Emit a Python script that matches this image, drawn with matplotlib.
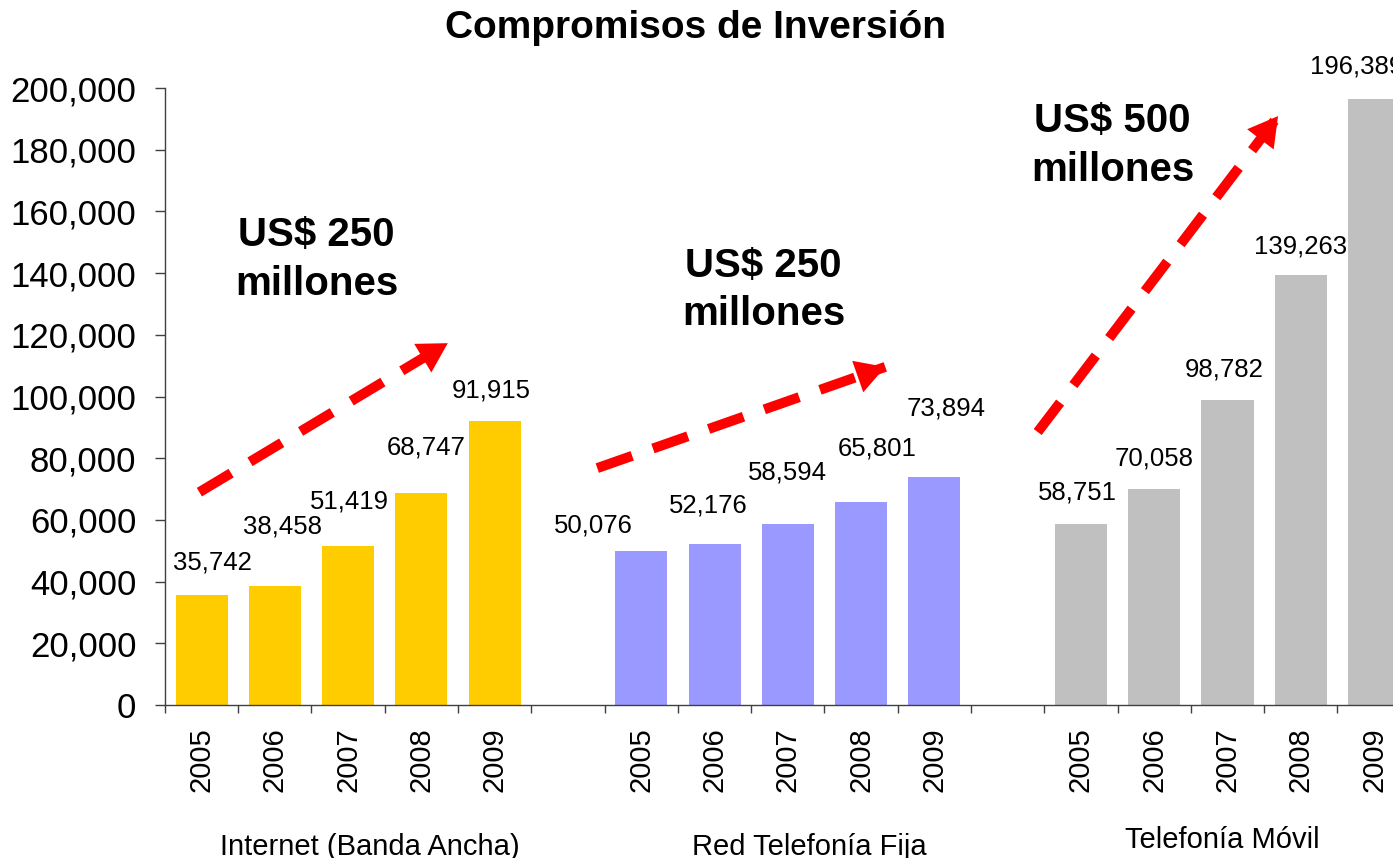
import matplotlib
matplotlib.use('Agg')
import matplotlib.pyplot as plt
from matplotlib.ticker import FixedLocator, StrMethodFormatter

plt.rcParams['font.family'] = ['Liberation Sans', 'DejaVu Sans']

# data
years = ['2005', '2006', '2007', '2008', '2009']
groups = ['Internet (Banda Ancha)', 'Red Telefonía Fija', 'Telefonía Móvil']
internet = [35742, 38458, 51419, 68747, 91915]
fija = [50076, 52176, 58594, 65801, 73894]
movil = [58751, 70058, 98782, 139263, 196389]
montos = ['US$ 250\nmillones', 'US$ 250\nmillones', 'US$ 500\nmillones']

series = [internet, fija, movil]
colors = ['#FFCC00', '#9999FF', '#C0C0C0']

# label nudges in pixels (dx, dy above bar top)
nudges = [[(11, 32), (8, 60), (1, 45), (5, 45), (-3, 31)],
          [(-48, 25), (-6, 39), (0, 52), (16, 54), (12, 69)],
          [(-4, 31), (0, 30), (-3, 31), (0, 29), (-17, 33)]]
# arrows: (start, tip) in data coords
arrows = [((-0.03, 69000), (3.36, 117300)),
          ((5.40, 76800), (9.33, 109600)),
          ((11.41, 88500), (14.69, 190900))]
monto_pos = [(1.57, 144300), (7.67, 134500), (12.43, 181500)]
group_x = [2.29, 8.29, 13.93]
group_y = [-0.243, -0.243, -0.232]

fig = plt.figure(figsize=(13.93, 8.58), dpi=100)
ax = fig.add_axes([0.1184, 0.1783, 0.8943, 0.7191])

px = 0.72  # points per pixel at dpi 100
centers = []
for g, vals in enumerate(series):
    xs = [g * 6 + i for i in range(len(vals))]
    centers += xs
    ax.bar(xs, vals, width=0.71, color=colors[g], zorder=2)
    for i, (x, v) in enumerate(zip(xs, vals)):
        dx, dy = nudges[g][i]
        ax.annotate(f'{v:,}', (x, v), xytext=(dx * px, dy * px),
                    textcoords='offset points', ha='center', va='center',
                    fontsize=18.5, annotation_clip=False)
    ax.text(group_x[g], group_y[g], groups[g], transform=ax.get_xaxis_transform(),
            ha='center', va='baseline', fontsize=21)

ax.set_xlim(-0.5, 16.5)
ax.set_ylim(0, 200000)
ax.yaxis.set_major_locator(FixedLocator(range(0, 200001, 20000)))
ax.yaxis.set_major_formatter(StrMethodFormatter('{x:,.0f}'))

ax.xaxis.set_major_locator(FixedLocator([i - 0.5 for i in range(18)]))
ax.xaxis.set_major_formatter(plt.NullFormatter())
ax.xaxis.set_minor_locator(FixedLocator(centers))
ax.set_xticklabels(years * 3, minor=True, rotation=90, fontsize=21)
ax.tick_params(axis='x', which='major', length=6, width=1, color='#404040')
ax.tick_params(axis='x', which='minor', length=0, pad=15.8)
ax.tick_params(axis='y', length=7, width=1, color='#404040', pad=13.5, labelsize=25)

for s in ['top', 'right']:
    ax.spines[s].set_visible(False)
for s in ['left', 'bottom']:
    ax.spines[s].set_color('#404040')
    ax.spines[s].set_linewidth(1)

for (x0, y0), (x1, y1) in arrows:
    ax.plot([x0, x1], [y0, y1], color='red', lw=7.2, dashes=(3.7, 2.2),
            solid_capstyle='butt', zorder=3, clip_on=False)
    ax.annotate('', xy=(x1, y1), xytext=(x0, y0),
                arrowprops=dict(arrowstyle='-|>,head_length=1.05,head_width=0.6',
                                color='red', lw=0, shrinkA=0, shrinkB=0,
                                mutation_scale=20), zorder=4, annotation_clip=False)

for (x, y), t in zip(monto_pos, montos):
    ax.text(x, y, t, ha='center', va='center', fontsize=29, fontweight='bold',
            linespacing=1.36)

fig.text(0.499, 1 - 28 / 858, 'Compromisos de Inversión', ha='center', va='center',
         fontsize=28, fontweight='bold')

fig.savefig('out.png', dpi=100)
